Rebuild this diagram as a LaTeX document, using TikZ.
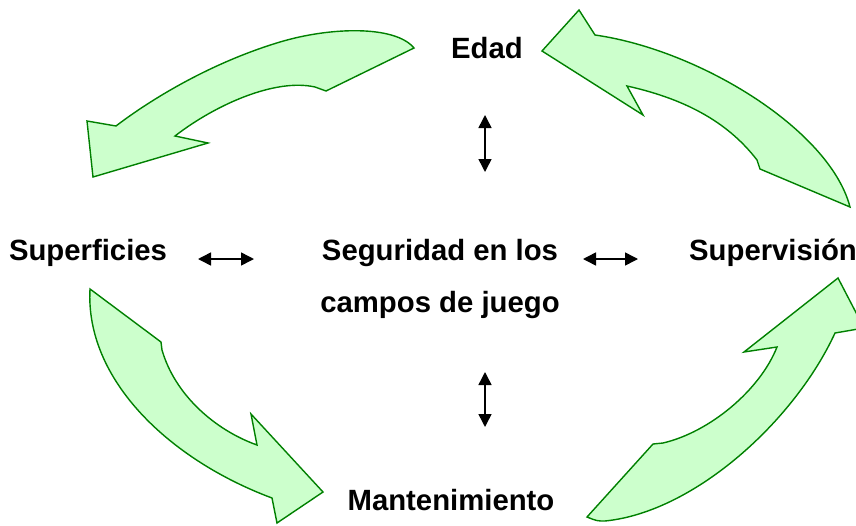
\documentclass[tikz,border=0pt]{standalone}
\usepackage{fontspec}
\setmainfont{Liberation Sans}
\usetikzlibrary{arrows.meta}
\definecolor{arrowfill}{HTML}{CCFFCC}
\definecolor{arrowline}{HTML}{008000}
\begin{document}
\begin{tikzpicture}[x=1pt,y=-1pt,
  bigarrow/.style={fill=arrowfill,draw=arrowline,line width=1.4pt,line join=miter},
  lbl/.style={font=\fontsize{29.3}{35}\selectfont\bfseries,inner sep=0pt,anchor=base},
  dbl/.style={{Triangle[length=13pt,width=13pt]}-{Triangle[length=13pt,width=13pt]},line width=1.5pt}]
\useasboundingbox (0,0) rectangle (856,525);

% big curved arrows
% top-left
\draw[bigarrow] (414,48) .. controls (395,25) and (330,27) .. (280,42)
  .. controls (210,63) and (150,100) .. (116,126)
  -- (87,121) -- (93,177) -- (208,143) -- (175,136)
  .. controls (215,105) and (275,78) .. (315,87) -- (326,91) -- cycle;
% top-right
\draw[bigarrow] (542,51) -- (579,10) -- (595,35)
  .. controls (700,50) and (830,130) .. (850,207)
  -- (760,169) -- (757,160)
  .. controls (730,125) and (690,100) .. (627,86)
  -- (643,115) -- cycle;
% bottom-left
\draw[bigarrow] (90,289) -- (161,342) -- (162,350)
  .. controls (175,395) and (215,430) .. (257,445)
  -- (251,414) -- (323,492) -- (277,523) -- (272,498)
  .. controls (170,460) and (85,380) .. (90,289) -- cycle;
% bottom-right
\draw[bigarrow] (587,517) -- (653,444) -- (663,443)
  .. controls (710,432) and (760,390) .. (777,347)
  -- (744,352) -- (838,278) -- (864,328) -- (835,333)
  .. controls (795,420) and (695,512) .. (605,521)
  .. controls (597,521) .. (587,517) -- cycle;

% labels
\node[lbl] (edad) at (487,58) {Edad};
\node[lbl] (sup) at (88,260) {Superficies};
\node[lbl] (seg) at (440,260) {Seguridad en los};
\node[lbl] (campos) at (440,312) {campos de juego};
\node[lbl] (superv) at (773,260) {Supervisión};
\node[lbl] (mant) at (451,510) {Mantenimiento};

% small double arrows
\coordinate (v1a) at (485,115); \coordinate (v1b) at (485,172);
\coordinate (v2a) at (485,372); \coordinate (v2b) at (485,427);
\coordinate (h1a) at (198,259); \coordinate (h1b) at (254,259);
\coordinate (h2a) at (583,259); \coordinate (h2b) at (638,259);
\draw[dbl] (v1a) -- (v1b);
\draw[dbl] (v2a) -- (v2b);
\draw[dbl] (h1a) -- (h1b);
\draw[dbl] (h2a) -- (h2b);
\end{tikzpicture}
\end{document}
